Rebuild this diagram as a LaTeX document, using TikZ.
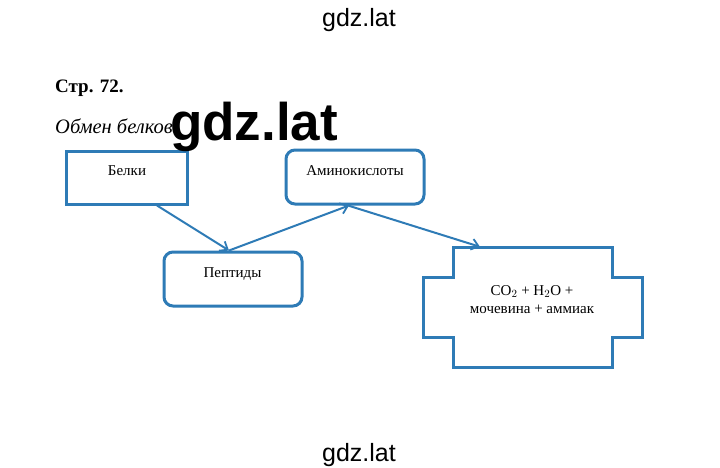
\documentclass[tikz,border=0pt]{standalone}
\usepackage{fontspec}
\setmainfont{Liberation Serif}
\newfontfamily\wmfont{Liberation Sans}
\usetikzlibrary{arrows.meta}
\definecolor{lineblue}{HTML}{2E7BB6}
\begin{document}
\begin{tikzpicture}[x=1pt,y=-1pt,
  boxrd/.style={draw=lineblue,line width=3pt,rounded corners=9pt,inner sep=0pt},
  lbl/.style={font=\fontsize{15}{18}\selectfont,anchor=base},
  conn/.style={draw=lineblue,line width=2pt,-{Straight Barb[length=7pt,width=11pt,line width=1.8pt]}},
  wm/.style={font=\wmfont\fontsize{25}{28}\selectfont,anchor=base}]
\useasboundingbox (0,0) rectangle (720,467);
\fill[white] (0,0) rectangle (720,467);
% boxes
\node[draw=lineblue,line width=3pt,inner sep=0pt,minimum width=121pt,minimum height=53pt] (belki) at (126.5,177.5) {};
\node[boxrd,minimum width=138pt,minimum height=54pt] (amino) at (355,177) {};
\node[boxrd,minimum width=138pt,minimum height=54pt] (pept) at (233,279) {};
% cross shape
\draw[draw=lineblue,line width=3pt,line join=miter]
  (453,247) -- (612,247) -- (612,277) -- (642,277) -- (642,337) -- (612,337)
  -- (612,367) -- (453,367) -- (453,337) -- (423,337) -- (423,277) -- (453,277) -- cycle;
\node[inner sep=0pt,minimum width=219pt,minimum height=120pt] (prod) at (532.5,307) {};
% labels
\node[lbl] (tbelki) at (127,175) {Белки};
\node[lbl] (tamino) at (355,175) {Аминокислоты};
\node[lbl] (tpept) at (232.5,277) {Пептиды};
\node[lbl] (tprod1) at (532,295) {CO$_2$ + H$_2$O +};
\node[lbl] (tprod2) at (532,313) {мочевина + аммиак};
% connectors
\draw[conn] ([xshift=30.5pt]belki.south) -- ([xshift=-4pt]pept.north);
\draw[conn] ([xshift=-4pt]pept.north) -- ([xshift=-6pt]amino.south);
\draw[conn] ([xshift=-7pt]amino.south) -- ([xshift=-52.5pt]prod.north);
% headings
\node[anchor=base west,inner sep=0pt,font=\bfseries\fontsize{19}{22}\selectfont] (title) at (55,92) {Стр. 72.};
\node[anchor=base west,inner sep=0pt,font=\itshape\fontsize{20.5}{23}\selectfont] (sub) at (55,133) {Обмен белков};
% watermarks
\node[wm] (wm1) at (359,26) {gdz.lat};
\node[anchor=base,font=\wmfont\bfseries\fontsize{53}{56}\selectfont] (wm2) at (254,140) {gdz.lat};
\node[wm] (wm3) at (359,461) {gdz.lat};
\end{tikzpicture}
\end{document}
